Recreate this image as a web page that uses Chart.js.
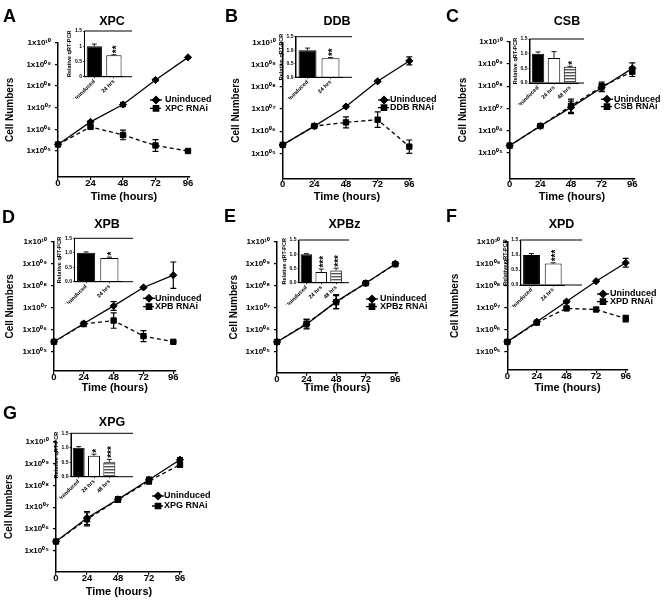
<!DOCTYPE html>
<html><head><meta charset="utf-8">
<script src="https://cdn.jsdelivr.net/npm/chart.js@4.4.1/dist/chart.umd.min.js"></script>
<style>
html,body{margin:0;padding:0;background:#fff;}
body{position:relative;width:667px;height:601px;overflow:hidden;}
canvas{position:absolute;}
</style></head><body>
<script>
// ---------------- DATA ----------------
const timeHours = [0, 24, 48, 72, 96];
const cellTickValues = [1e5, 1e6, 1e7, 1e8, 1e9, 1e10];
const cellTickLabels = ['1x10\u2070\u2075', '1x10\u2070\u2076', '1x10\u2070\u2077', '1x10\u2070\u2078', '1x10\u2070\u2079', '1x10\u00B9\u2070'];
const panelLetters = ['A', 'B', 'C', 'D', 'E', 'F', 'G'];
const geneNames = ['XPC', 'DDB', 'CSB', 'XPB', 'XPBz', 'XPD', 'XPG'];
const uninducedLabel = 'Uninduced';
const rnaiLabels = ['XPC RNAi', 'DDB RNAi', 'CSB RNAi', 'XPB RNAi', 'XPBz RNAi', 'XPD RNAi', 'XPG RNAi'];
const xAxisTitle = 'Time (hours)';
const yAxisTitle = 'Cell Numbers';

// cell numbers per time point (one row per panel A..G)
const uninducedCells = [
  [2.0e5, 2.2e6, 1.4e7, 1.9e8, 2.1e9],
  [2.4e5, 1.7e6, 1.3e7, 1.8e8, 1.5e9],
  [2.1e5, 1.6e6, 1.1e7, 8.5e7, 6.3e8],
  [2.8e5, 1.9e6, 1.2e7, 8.3e7, 3.0e8],
  [2.8e5, 1.8e6, 1.9e7, 1.3e8, 1.0e9],
  [2.8e5, 2.3e6, 1.9e7, 1.6e8, 1.1e9],
  [2.7e5, 3.2e6, 2.3e7, 1.8e8, 1.5e9]
];
// error bars, in decades (log10 units)
const uninducedErrLog = [
  [0, 0.05, 0.10, 0.04, 0.04],
  [0, 0.04, 0.05, 0.04, 0.18],
  [0, 0.05, 0.28, 0.18, 0.25],
  [0, 0.03, 0.20, 0.04, 0.60],
  [0, 0.22, 0.32, 0.05, 0.05],
  [0, 0.04, 0.05, 0.04, 0.20],
  [0, 0.30, 0.12, 0.12, 0.10]
];
const rnaiCells = [
  [2.0e5, 1.3e6, 5.5e5, 1.8e5, 1.0e5],
  [2.4e5, 1.7e6, 2.5e6, 3.3e6, 2.0e5],
  [2.1e5, 1.6e6, 1.3e7, 9.5e7, 4.5e8],
  [2.8e5, 1.8e6, 2.6e6, 5.1e5, 2.8e5],
  [2.8e5, 1.9e6, 1.8e7, 1.3e8, 9.5e8],
  [2.8e5, 2.1e6, 9.3e6, 8.3e6, 3.2e6],
  [2.7e5, 2.8e6, 2.2e7, 1.6e8, 8.9e8]
];
const rnaiErrLog = [
  [0, 0.04, 0.22, 0.27, 0.03],
  [0, 0.04, 0.25, 0.35, 0.30],
  [0, 0.05, 0.30, 0.20, 0.22],
  [0, 0.03, 0.35, 0.25, 0.03],
  [0, 0.20, 0.30, 0.05, 0.05],
  [0, 0.03, 0.08, 0.08, 0.15],
  [0, 0.30, 0.12, 0.15, 0.12]
];

// inset qRT-PCR bars
const qpcrCategories = [
  ['Uninduced', '24 hrs'],
  ['Uninduced', '24 hrs'],
  ['Uninduced', '24 hrs', '48 hrs'],
  ['Uninduced', '24 hrs'],
  ['Uninduced', '24 hrs', '48 hrs'],
  ['Uninduced', '24 hrs'],
  ['Uninduced', '24 hrs', '48 hrs']
];
const qpcrValues = [[1.0, 0.70], [1.0, 0.70], [1.0, 0.85, 0.55], [1.0, 0.82], [1.0, 0.38, 0.43], [1.0, 0.72], [1.0, 0.72, 0.50]];
const qpcrErrors = [[0.07, 0.02], [0.08, 0.03], [0.06, 0.22, 0.02], [0.03, 0.03], [0.02, 0.10, 0.08], [0.05, 0.02], [0.04, 0.06, 0.10]];
const qpcrStars = [['', '**'], ['', '**'], ['', '', '*'], ['', '*'], ['', '***', '***'], ['', '***'], ['', '*', '***']];
const qpcrTickValues = [0, 0.5, 1, 1.5];
const qpcrTickLabelsShort = ['0', '0.5', '1', '1.5'];
const qpcrTickLabelsLong = ['0.0', '0.5', '1.0', '1.5'];
const qpcrAxisTitle = 'Relative qRT-PCR';

// ---------------- LAYOUT / STYLE ----------------
const FONT = "'Liberation Sans', Arial, Helvetica, sans-serif";
const X_MAX = 97.5;
const Y_TITLE_SIZE = 10, X_TITLE_SIZE = 11;
const mainLayout = [
  {cx:0,   cy:0,   cw:222, ch:210, axisX:58,    x96:188,   top:42.7,  bottom:177,   logMin:3.80, yGap:48,   xGap:20,   letter:[3,22],    title:[112,22],   legend:{cx:156, ys:[100,108.3], tx:165}},
  {cx:222, cy:0,   cw:222, ch:210, axisX:282.7, x96:409.3, top:42.7,  bottom:178.3, logMin:3.87, yGap:46.7, xGap:18.4, letter:[225,22],  title:[337,22],   legend:{cx:384, ys:[100,107.7], tx:390}},
  {cx:444, cy:0,   cw:223, ch:210, axisX:509.7, x96:632.3, top:41.7,  bottom:178.3, logMin:3.85, yGap:46.7, xGap:18.4, letter:[446,22],  title:[567,22],   legend:{cx:607, ys:[99.3,106.7], tx:614}},
  {cx:0,   cy:200, cw:222, ch:210, axisX:54,    x96:173.3, top:241.7, bottom:371,   logMin:4.12, yGap:44,   xGap:17.3, letter:[2,223],   title:[107,225],  legend:{cx:149, ys:[298.3,306.7], tx:155}},
  {cx:222, cy:200, cw:222, ch:210, axisX:277,   x96:395.3, top:241.7, bottom:372.7, logMin:4.05, yGap:42.5, xGap:15.6, letter:[224,222], title:[344.5,225], legend:{cx:372, ys:[299,306.7], tx:380}},
  {cx:444, cy:200, cw:223, ch:210, axisX:507.3, x96:625.7, top:241.7, bottom:370,   logMin:4.17, yGap:51.6, xGap:18.3, letter:[446,222], title:[561.5,225], legend:{cx:603, ys:[294,301.7], tx:610}},
  {cx:0,   cy:400, cw:222, ch:201, axisX:56,    x96:180,   top:441.7, bottom:571.7, logMin:4.05, yGap:46.5, xGap:20,   letter:[3,419],   title:[112,423],  legend:{cx:158, ys:[496,506], tx:164}}
];
const insetLayout = [
  {left:84.5, barsRight:123.7, boxRight:128,   top:31,    bottom:76.7,  ticks:'short'},
  {left:296,  barsRight:342,   boxRight:348,   top:36.7,  bottom:77.3,  ticks:'long'},
  {left:530,  barsRight:578,   boxRight:580,   top:39,    bottom:83,    ticks:'long'},
  {left:74.5, barsRight:121,   boxRight:128.3, top:238.3, bottom:281.7, ticks:'long'},
  {left:299,  barsRight:343.5, boxRight:345,   top:240,   bottom:282.7, ticks:'long'},
  {left:520.7,barsRight:564,   boxRight:577.3, top:240,   bottom:285,   ticks:'long'},
  {left:71,   barsRight:117,   boxRight:128.3, top:433.3, bottom:476.7, ticks:'long'}
];

Chart.defaults.font.family = FONT;
Chart.defaults.font.weight = 'bold';
Chart.defaults.color = '#000';

function makeCanvas(x, y, w, h) {
  const c = document.createElement('canvas');
  c.width = w; c.height = h;
  c.style.left = x + 'px'; c.style.top = y + 'px';
  c.style.width = w + 'px'; c.style.height = h + 'px';
  document.body.appendChild(c);
  return c;
}

function buildMain(i) {
  const L = mainLayout[i];
  const canvas = makeCanvas(L.cx, L.cy, L.cw, L.ch);
  const yW = L.yGap + Y_TITLE_SIZE * 0.6;
  const xH = L.xGap + X_TITLE_SIZE * 0.6;
  const areaRight = L.axisX + X_MAX * (L.x96 - L.axisX) / 96;
  const padding = {left: L.axisX - yW - L.cx, top: L.top - L.cy, right: L.cx + L.cw - areaRight, bottom: L.cy + L.ch - L.bottom - xH};
  const errs = [uninducedErrLog[i], rnaiErrLog[i]];
  const decor = {
    id: 'decor' + i,
    afterDatasetsDraw(chart) {
      const ctx = chart.ctx, xs = chart.scales.x, ys = chart.scales.y;
      ctx.save();
      ctx.strokeStyle = '#000'; ctx.lineWidth = 1.2; ctx.setLineDash([]);
      chart.data.datasets.forEach((ds, d) => {
        ds.data.forEach((pt, k) => {
          const e = errs[d][k];
          if (!e) return;
          const x = xs.getPixelForValue(pt.x);
          const yHi = ys.getPixelForValue(pt.y * Math.pow(10, e));
          const yLo = ys.getPixelForValue(pt.y / Math.pow(10, e));
          ctx.beginPath();
          ctx.moveTo(x, yHi); ctx.lineTo(x, yLo);
          ctx.moveTo(x - 3, yHi); ctx.lineTo(x + 3, yHi);
          ctx.moveTo(x - 3, yLo); ctx.lineTo(x + 3, yLo);
          ctx.stroke();
        });
      });
      ctx.restore();
    },
    afterDraw(chart) {
      const ctx = chart.ctx;
      ctx.save();
      ctx.fillStyle = '#000';
      ctx.font = 'bold 18px ' + FONT; ctx.textAlign = 'left'; ctx.textBaseline = 'alphabetic';
      ctx.fillText(panelLetters[i], L.letter[0] - L.cx, L.letter[1] - L.cy);
      ctx.font = 'bold 12.5px ' + FONT; ctx.textAlign = 'center'; ctx.textBaseline = 'middle';
      ctx.fillText(geneNames[i], L.title[0] - L.cx, L.title[1] - L.cy);
      chart.data.datasets.forEach((ds, d) => {
        const cx = L.legend.cx - L.cx, y = L.legend.ys[d] - L.cy;
        ctx.strokeStyle = '#000'; ctx.lineWidth = 1.3;
        ctx.setLineDash(ds.borderDash || []);
        ctx.beginPath(); ctx.moveTo(cx - 6, y); ctx.lineTo(cx + 6, y); ctx.stroke();
        ctx.setLineDash([]);
        ctx.fillStyle = '#000';
        Chart.helpers.drawPoint(ctx, {pointStyle: ds.pointStyle, radius: ds.pointRadius, rotation: 0, borderWidth: 1}, cx, y);
        ctx.font = 'bold 9px ' + FONT; ctx.textAlign = 'left'; ctx.textBaseline = 'middle';
        ctx.fillText(ds.label, L.legend.tx - L.cx, y);
      });
      ctx.restore();
    }
  };
  const axisGrid = {display: true, drawOnChartArea: false, drawTicks: true, tickLength: 3, color: '#000', lineWidth: 1.2};
  const axisBorder = {display: true, color: '#000', width: 1.5};
  new Chart(canvas, {
    type: 'line',
    data: {datasets: [
      {label: uninducedLabel, data: timeHours.map((t, k) => ({x: t, y: uninducedCells[i][k]})),
       borderColor: '#000', backgroundColor: '#000', borderWidth: 1.3, pointStyle: 'rectRot', pointRadius: 3.6,
       pointBorderWidth: 1, pointBackgroundColor: '#000', pointBorderColor: '#000', tension: 0, clip: false},
      {label: rnaiLabels[i], data: timeHours.map((t, k) => ({x: t, y: rnaiCells[i][k]})),
       borderColor: '#000', backgroundColor: '#000', borderWidth: 1.3, borderDash: [4, 3], pointStyle: 'rect', pointRadius: 3.8,
       pointBorderWidth: 1, pointBackgroundColor: '#000', pointBorderColor: '#000', tension: 0, clip: false}
    ]},
    options: {
      responsive: false, animation: false, devicePixelRatio: 1, events: [],
      layout: {padding},
      plugins: {legend: {display: false}, title: {display: false}, tooltip: {enabled: false}},
      scales: {
        x: {type: 'linear', min: 0, max: X_MAX,
            afterBuildTicks: s => { s.ticks = timeHours.map(v => ({value: v})); },
            afterFit: s => { s.height = xH; },
            grid: axisGrid, border: axisBorder,
            ticks: {color: '#000', font: {size: 9.5, weight: 'bold', family: FONT, lineHeight: 1}, padding: -1.5, maxRotation: 0, autoSkip: false, callback: v => String(v)},
            title: {display: true, text: xAxisTitle, color: '#000', font: {size: X_TITLE_SIZE, weight: 'bold', family: FONT, lineHeight: 1.2}, padding: 0}},
        y: {type: 'logarithmic', min: Math.pow(10, L.logMin), max: 1e10,
            afterBuildTicks: s => { s.ticks = cellTickValues.map(v => ({value: v})); },
            afterFit: s => { s.width = yW; },
            grid: axisGrid, border: axisBorder,
            ticks: {color: '#000', font: {size: 8, weight: 'bold', family: FONT}, padding: 4, autoSkip: false, callback: (v, idx) => cellTickLabels[idx]},
            title: {display: true, text: yAxisTitle, color: '#000', font: {size: Y_TITLE_SIZE, weight: 'bold', family: FONT, lineHeight: 1.2}, padding: 0}}
      }
    },
    plugins: [decor]
  });
}

function makeHatch(ctx) {
  const t = document.createElement('canvas');
  t.width = 4; t.height = 3;
  const g = t.getContext('2d');
  g.fillStyle = '#fff'; g.fillRect(0, 0, 4, 3);
  g.fillStyle = '#555'; g.fillRect(0, 0, 4, 1.4);
  return ctx.createPattern(t, 'repeat');
}

const INSET_TITLE_SIZE = 5.5, INSET_Y_GAP = 15;
function buildInset(i) {
  const S = insetLayout[i];
  const yW = INSET_Y_GAP + INSET_TITLE_SIZE * 0.6;
  const cx = Math.floor(S.left - yW - 24), cy = Math.floor(S.top - 6);
  const cw = Math.ceil(S.boxRight + 4 - cx), ch = Math.ceil(S.bottom + 26 - cy);
  const xH = 22;
  const padding = {left: S.left - yW - cx, top: S.top - cy, right: cx + cw - S.barsRight, bottom: cy + ch - S.bottom - xH};
  const canvas = makeCanvas(cx, cy, cw, ch);
  const hatch = makeHatch(canvas.getContext('2d'));
  const fills = ['#000', '#fff', hatch];
  const tickLabels = S.ticks === 'short' ? qpcrTickLabelsShort : qpcrTickLabelsLong;
  const marks = {
    id: 'insetMarks' + i,
    afterDatasetsDraw(chart) {
      const ctx = chart.ctx, ys = chart.scales.y, a = chart.chartArea;
      const meta = chart.getDatasetMeta(0);
      ctx.save();
      ctx.strokeStyle = '#000'; ctx.lineWidth = 0.9;
      meta.data.forEach((bar, k) => {
        const v = qpcrValues[i][k], e = qpcrErrors[i][k];
        const yE = ys.getPixelForValue(v + e);
        ctx.beginPath();
        ctx.moveTo(bar.x, bar.y); ctx.lineTo(bar.x, yE);
        ctx.moveTo(bar.x - 2.5, yE); ctx.lineTo(bar.x + 2.5, yE);
        ctx.stroke();
        const star = qpcrStars[i][k];
        if (star) {
          const fs = 10;
          ctx.save();
          ctx.translate(bar.x, yE - 1.5);
          ctx.rotate(-Math.PI / 2);
          ctx.fillStyle = '#000';
          ctx.font = 'bold ' + fs + 'px ' + FONT;
          ctx.textAlign = 'left'; ctx.textBaseline = 'alphabetic';
          ctx.fillText(star, 0, 0.58 * fs);
          ctx.restore();
        }
      });
      ctx.lineWidth = 1;
      ctx.strokeRect(a.left, a.top, S.boxRight - a.left, a.bottom - a.top);
      ctx.restore();
    }
  };
  new Chart(canvas, {
    type: 'bar',
    data: {labels: qpcrCategories[i], datasets: [{data: qpcrValues[i], backgroundColor: fills.slice(0, qpcrValues[i].length),
      borderColor: '#000', borderWidth: 1, barPercentage: 0.78, categoryPercentage: 1}]},
    options: {
      responsive: false, animation: false, devicePixelRatio: 1, events: [],
      layout: {padding},
      plugins: {legend: {display: false}, title: {display: false}, tooltip: {enabled: false}},
      scales: {
        x: {afterFit: s => { s.height = xH; },
            grid: {display: true, drawOnChartArea: false, drawTicks: true, tickLength: 1.5, offset: false, color: '#000', lineWidth: 0.8},
            border: {display: true, color: '#000', width: 1},
            ticks: {color: '#000', font: {size: 5.5, weight: 'bold', family: FONT}, padding: 0, minRotation: 45, maxRotation: 45, autoSkip: false}},
        y: {min: 0, max: 1.5,
            afterBuildTicks: s => { s.ticks = qpcrTickValues.map(v => ({value: v})); },
            afterFit: s => { s.width = yW; },
            grid: {display: true, drawOnChartArea: false, drawTicks: true, tickLength: 1.5, color: '#000', lineWidth: 0.8},
            border: {display: true, color: '#000', width: 1},
            ticks: {color: '#000', font: {size: 5, weight: 'bold', family: FONT}, padding: 1, autoSkip: false, callback: (v, idx) => tickLabels[idx]},
            title: {display: true, text: qpcrAxisTitle, color: '#000', font: {size: INSET_TITLE_SIZE, weight: 'bold', family: FONT, lineHeight: 1.2}, padding: 0}}
      }
    },
    plugins: [marks]
  });
}

for (let i = 0; i < 7; i++) buildMain(i);
for (let i = 0; i < 7; i++) buildInset(i);
</script>
</body></html>
